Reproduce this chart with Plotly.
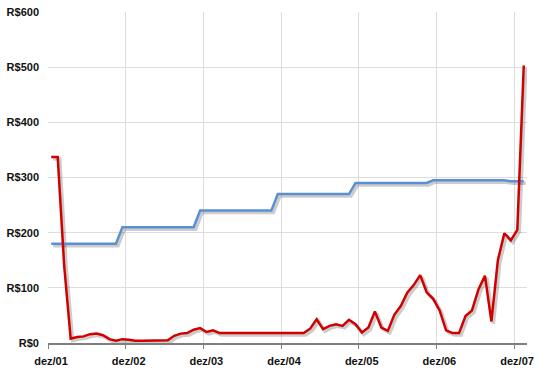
import plotly.graph_objects as go

# month index 0 = first point (just after dez/01 tick)
months = list(range(74))

blue_values = [180]*11 + [210]*12 + [240]*12 + [270]*12 + [290]*12 + [295]*12 + [293]*3

red_values = [337, 337, 140, 8, 11, 12, 16, 17, 14, 7,
              4, 7, 6, 4, 4, 4, 4, 4, 5, 13,
              17, 18, 24, 27, 20, 23, 18, 18, 18, 18,
              18, 18, 18, 18, 18, 18, 18, 18, 18, 18,
              26, 43, 25, 31, 34, 31, 42, 34, 19, 28,
              57, 28, 22, 51, 67, 91, 105, 123, 92, 80,
              59, 23, 18, 18, 49, 59, 97, 122, 39, 150,
              199, 186, 205, 503]

tick_positions = [-0.5, 11.5, 23.5, 35.5, 47.5, 59.5, 71.5]
tick_labels = ["dez/01", "dez/02", "dez/03", "dez/04", "dez/05", "dez/06", "dez/07"]

XR = [-0.5, 73.5]
YR = [0, 600]
# shadow offset ~2px right, 2px down
dx = 2 / (479 / 74)
dy = 2 / (331 / 600)

fig = go.Figure()
# empty trace so the main (visible) axes are created
fig.add_trace(go.Scatter(x=[None], y=[None], mode="lines", xaxis="x", yaxis="y",
                         hoverinfo="skip", showlegend=False))
shadow = dict(color="rgba(0,0,0,0.2)", width=3.5)
fig.add_trace(go.Scatter(x=months, y=blue_values, mode="lines", line=shadow,
                         xaxis="x2", yaxis="y2", hoverinfo="skip", showlegend=False))
fig.add_trace(go.Scatter(x=months, y=red_values, mode="lines", line=shadow,
                         xaxis="x2", yaxis="y2", hoverinfo="skip", showlegend=False))
fig.add_trace(go.Scatter(x=months, y=blue_values, mode="lines",
                         line=dict(color="#5a8fd6", width=2.5),
                         xaxis="x3", yaxis="y3", showlegend=False))
fig.add_trace(go.Scatter(x=months, y=red_values, mode="lines",
                         line=dict(color="#d00000", width=2.5),
                         xaxis="x3", yaxis="y3", showlegend=False))

font = dict(family="Liberation Sans, Arial, sans-serif", size=11, color="#111111", weight="bold")

fig.update_layout(
    width=535, height=371,
    margin=dict(l=48, r=8, t=12, b=28),
    paper_bgcolor="white", plot_bgcolor="white",
    showlegend=False,
    xaxis=dict(range=XR, tickvals=tick_positions, ticktext=tick_labels,
               showgrid=True, gridcolor="#dddddd", gridwidth=1,
               showline=True, linecolor="#7f7f7f", linewidth=1.5,
               ticks="outside", ticklen=4, tickcolor="#7f7f7f",
               ticklabelstandoff=3, ticklabelshift=3,
               tickfont=font, zeroline=False, fixedrange=True, automargin=False),
    yaxis=dict(range=YR, tickvals=[0, 100, 200, 300, 400, 500, 600],
               ticktext=["R$0", "R$100", "R$200", "R$300", "R$400", "R$500", "R$600"],
               showgrid=True, gridcolor="#dddddd", gridwidth=1,
               showline=False, zeroline=False, ticks="", tickfont=font,
               ticklabelstandoff=8,
               fixedrange=True, automargin=False),
    xaxis2=dict(range=[XR[0] - dx, XR[1] - dx], overlaying="x", visible=False,
                fixedrange=True, automargin=False),
    yaxis2=dict(range=[YR[0] + dy, YR[1] + dy], overlaying="y", visible=False,
                fixedrange=True, automargin=False),
    xaxis3=dict(range=XR, overlaying="x", visible=False, fixedrange=True, automargin=False),
    yaxis3=dict(range=YR, overlaying="y", visible=False, fixedrange=True, automargin=False),
)

fig.write_html("out.html", config={"displayModeBar": False},
               post_script="document.body.style.margin='0';document.body.style.padding='0';"
                           "document.documentElement.style.overflow='hidden';")
